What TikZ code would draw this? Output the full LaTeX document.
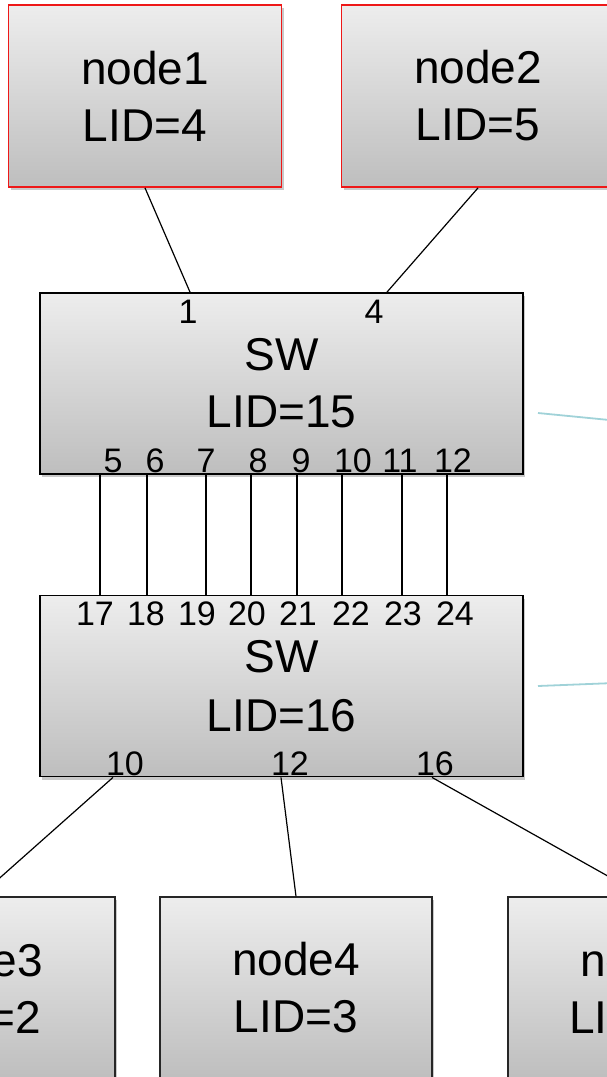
\documentclass[tikz,border=0pt]{standalone}
\usepackage{fontspec}
\setmainfont{Liberation Sans}
\usetikzlibrary{shadows}
\definecolor{boxtop}{RGB}{237,237,237}
\definecolor{boxbot}{RGB}{190,190,190}
\definecolor{hostred}{RGB}{238,24,24}
\definecolor{calloutblue}{RGB}{160,210,216}
\begin{document}
\begin{tikzpicture}[x=1pt,y=-1pt,
  box/.style={rectangle, draw, top color=boxtop, bottom color=boxbot, align=center,
    font=\fontsize{46}{57}\selectfont, inner sep=0pt,
    drop shadow={shadow xshift=2pt, shadow yshift=-3pt, opacity=0.3, fill=black!70}},
  host/.style={box, draw=hostred, line width=1.8pt, minimum width=273pt, minimum height=182pt},
  leaf/.style={box, draw=black!85, line width=1.3pt, minimum width=272pt, minimum height=182pt},
  switchbox/.style={box, draw=black, line width=1.8pt, minimum width=483pt, minimum height=181pt},
  port/.style={font=\fontsize{34}{40}\selectfont, anchor=base, inner sep=0pt},
  link/.style={draw=black, line width=1.2pt},
  callout/.style={draw=calloutblue, line width=1.8pt}]
\useasboundingbox (0,0) rectangle (607,1077);
\clip (0,0) rectangle (607,1077);

% links first (beneath boxes)
\node[host] (n1) at (145,96) {node1\\LID=4};
\node[host] (n2) at (478,96) {node2\\LID=5};
\node[switchbox] (sw1) at (281.5,383.5) {SW\\LID=15};
\node[switchbox, font=\fontsize{46}{59}\selectfont] (sw2) at (281.5,686) {SW\\LID=16};
\node[leaf] (n3) at (-21,988) {node3\\LID=2};
\node[leaf] (n4) at (296,988) {node4\\LID=3};
\node[leaf] (n5) at (644,988) {node5\\LID=14};

% port labels
\node[port] (p1)  at (188,323) {1};
\node[port] (p4)  at (374,323) {4};
\node[port] (p5)  at (113,472) {5};
\node[port] (p6)  at (155,472) {6};
\node[port] (p7)  at (206,472) {7};
\node[port] (p8)  at (258,472) {8};
\node[port] (p9)  at (301,472) {9};
\node[port] (p10) at (353,472) {10};
\node[port] (p11) at (400,472) {11};
\node[port] (p12) at (453,472) {12};
\node[port] (q17) at (95,625) {17};
\node[port] (q18) at (146,625) {18};
\node[port] (q19) at (197,625) {19};
\node[port] (q20) at (247,625) {20};
\node[port] (q21) at (298,625) {21};
\node[port] (q22) at (351,625) {22};
\node[port] (q23) at (403,625) {23};
\node[port] (q24) at (455,625) {24};
\node[port] (r10) at (125,775) {10};
\node[port] (r12) at (290,775) {12};
\node[port] (r16) at (435,775) {16};

% host to switch links
\draw[link] (n1.south) -- (sw1.north -| 190,0);
\draw[link] (n2.south) -- (sw1.north -| 387,0);

% inter-switch links
\foreach \x in {100,147,206,251,297,342,402,447}
  \draw[link] (sw1.south -| \x,0) -- (sw2.north -| \x,0);

% switch to leaf links
\draw[link] (sw2.south -| 113,0) -- (n3.north);
\draw[link] (sw2.south -| 281,0) -- (n4.north);
\draw[link] (sw2.south -| 432,0) -- (n5.north);

% callout lines leaving to the right
\coordinate (c1a) at (538,413);
\coordinate (c1b) at (640,423);
\coordinate (c2a) at (538,686);
\coordinate (c2b) at (640,682);
\draw[callout] (c1a) -- (c1b);
\draw[callout] (c2a) -- (c2b);
\end{tikzpicture}
\end{document}
